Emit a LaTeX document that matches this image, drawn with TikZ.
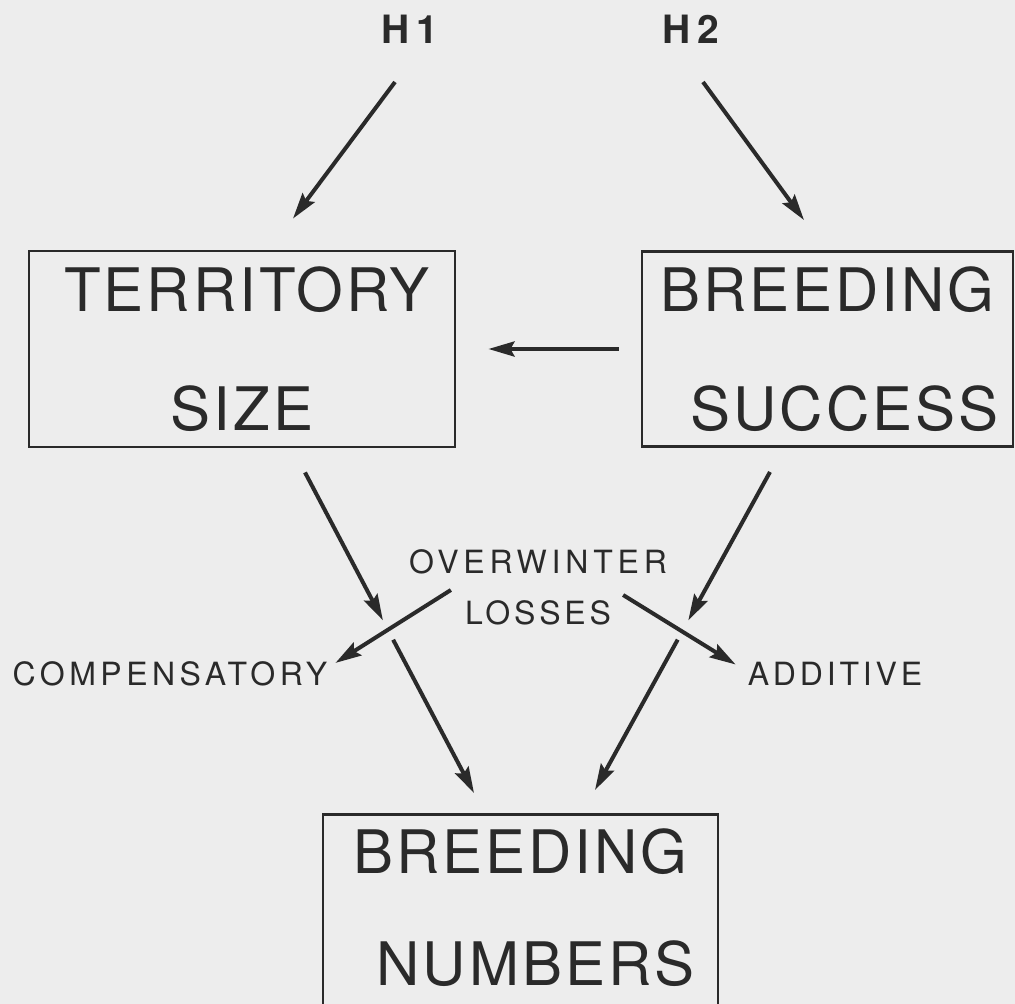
\documentclass[tikz,border=0pt]{standalone}
\usepackage{fontspec}
\setmainfont{TeX Gyre Heros}
\usepackage{tikz}
\usetikzlibrary{
  arrows.meta,
  positioning,
  calc
}
\definecolor{hmInk}{HTML}{2A2A2A}
\definecolor{hmPaper}{HTML}{EDEDED}
\tikzset{
  factor/.style={
    draw=hmInk, line width=2.9pt, text=hmInk, align=center, inner sep=0pt,
    font=\fontsize{60}{119}\selectfont\addfontfeature{LetterSpace=5}
  },
  losslbl/.style={
    text=hmInk, inner sep=0pt, align=center,
    font=\fontsize{32}{51}\selectfont\addfontfeature{LetterSpace=12}
  },
  widelbl/.style={losslbl, font=\fontsize{32}{51}\selectfont\addfontfeature{LetterSpace=14}},
  hyp/.style={
    text=hmInk, inner sep=0pt,
    font=\fontsize{39}{39}\selectfont\bfseries\addfontfeature{LetterSpace=18}
  },
  flow/.style={-{Stealth[length=26pt, width=15pt, inset=4pt]}, line width=4pt, hmInk}
}

\begin{document}
\begin{tikzpicture}[x=1pt, y=-1pt]
  \useasboundingbox (0,0) rectangle (1015,1004);
  \fill[hmPaper] (0,0) rectangle (1015,1004);
  % hypotheses
  \node[hyp, anchor=base] (h1) at (410,43) {H1};
  \node[hyp, anchor=base] (h2) at (691,43) {H2};
  % boxes
  \node[factor, minimum width=426pt, minimum height=196pt] (terr) at (242,349) {\hspace*{10pt}TERRITORY\\SIZE};
  \node[factor, minimum width=371pt, minimum height=195pt] (succ) at (827.5,349) {BREEDING\\\hspace*{34pt}SUCCESS};
  \node[factor, anchor=north, minimum width=395pt, inner ysep=14pt, text depth=60pt] (numb) at (520.5,813) {BREEDING\\[-7pt]\hspace*{30pt}NUMBERS};
  % overwinter losses
  \node[losslbl] (loss) at (538,587) {{\addfontfeature{LetterSpace=15}OVERWINTER}\\LOSSES};
  \node[widelbl, anchor=base] (comp) at (170,685) {COMPENSATORY};
  \node[losslbl, anchor=base] (add) at (835,685) {ADDITIVE};
  \coordinate (tgap) at (388,630);
  \coordinate (sgap) at (683,630);
  % arrows
  \draw[flow] ([xshift=-15pt,yshift=-39pt]h1.base) -- ([xshift=51pt,yshift=31pt]terr.north);
  \draw[flow] ([xshift=12pt,yshift=-39pt]h2.base) -- ([xshift=-23.5pt,yshift=30pt]succ.north);
  \draw[flow] ([xshift=-22pt]succ.west) -- ([xshift=32pt]terr.east);
  \draw[flow, shorten >=11pt] ([xshift=63pt,yshift=-24pt]terr.south) -- (tgap);
  \draw[flow, shorten <=11pt] (tgap) -- ([xshift=-46.5pt,yshift=20pt]numb.north);
  \draw[flow, shorten >=11pt] ([xshift=-57.5pt,yshift=-24pt]succ.south) -- (sgap);
  \draw[flow, shorten <=11pt] (sgap) -- ([xshift=74.5pt,yshift=23pt]numb.north);
  \draw[flow] ([xshift=42pt,yshift=-3pt]loss.west) -- ([xshift=8pt,yshift=-2pt]comp.north east);
  \draw[flow] ([xshift=-44pt,yshift=-8pt]loss.east) -- ([xshift=-12pt,yshift=-3pt]add.north west);
\end{tikzpicture}
\end{document}
